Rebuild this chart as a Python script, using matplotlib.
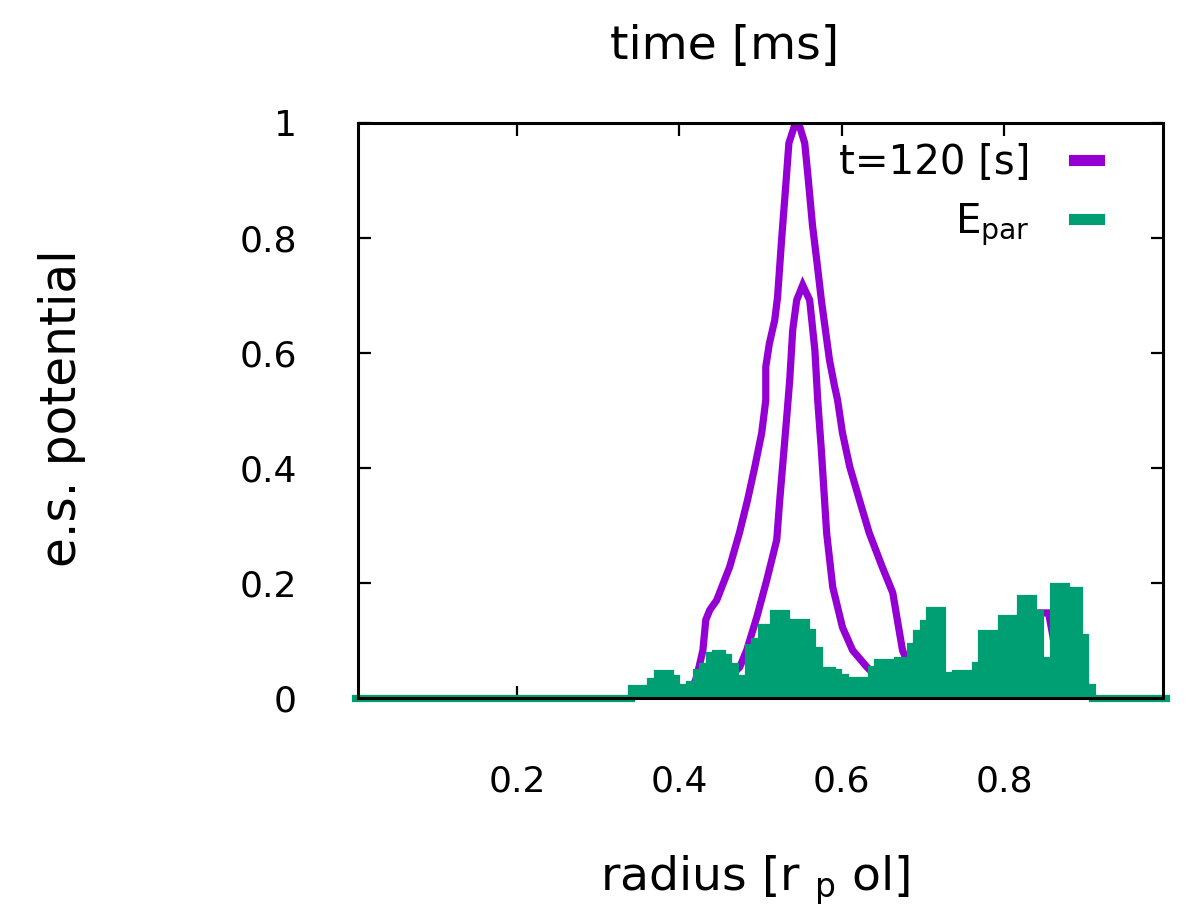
import numpy as np
import matplotlib
matplotlib.use("Agg")
import matplotlib.pyplot as plt

# potential profiles at several times (purple), all under one legend entry
r_outer = [0.413, 0.4166, 0.4215, 0.429, 0.4326, 0.4375, 0.446, 0.462, 0.474, 0.484,
           0.493, 0.5015, 0.5065, 0.5065, 0.511, 0.5175, 0.521, 0.526, 0.531, 0.535, 0.543,
           0.547, 0.5545, 0.559, 0.564, 0.570, 0.575, 0.580, 0.585, 0.591, 0.595, 0.601,
           0.610, 0.622, 0.634, 0.650, 0.663, 0.668, 0.675, 0.6835, 0.687, 0.69]
phi_outer = [0, 0.019, 0.037, 0.083, 0.136, 0.153, 0.170, 0.228, 0.287, 0.344,
             0.402, 0.461, 0.518, 0.576, 0.617, 0.657, 0.697, 0.797, 0.889, 0.965, 1.0,
             1.0, 0.965, 0.90, 0.823, 0.753, 0.692, 0.64, 0.588, 0.544, 0.518, 0.461,
             0.402, 0.344, 0.287, 0.228, 0.183, 0.141, 0.083, 0.054, 0.014, 0]

r_inner = [0.43, 0.44, 0.4585, 0.4745, 0.483, 0.4955, 0.5077, 0.52, 0.5237, 0.532,
           0.536, 0.5397, 0.5446, 0.552, 0.5606, 0.567, 0.5705, 0.575, 0.5815, 0.589,
           0.601, 0.6135, 0.631, 0.643, 0.653, 0.66]
phi_inner = [0, 0.005, 0.031, 0.054, 0.083, 0.141, 0.205, 0.275, 0.344, 0.483,
             0.553, 0.64, 0.692, 0.718, 0.692, 0.605, 0.518, 0.431, 0.287, 0.193,
             0.123, 0.083, 0.054, 0.037, 0.014, 0]

r_low = [0.44, 0.46, 0.48, 0.50, 0.51, 0.525, 0.54, 0.55, 0.56, 0.575, 0.59, 0.61,
         0.63, 0.65, 0.67, 0.69, 0.71, 0.73, 0.76, 0.79, 0.82, 0.84, 0.845, 0.855, 0.86,
         0.87, 0.88, 0.89, 0.905]
phi_low = [0, 0.012, 0.008, 0.01, 0.02, 0.03, 0.04, 0.025, 0.045, 0.02, 0.005, 0.004,
           0.004, 0.004, 0.005, 0.006, 0.004, 0.005, 0.004, 0.02, 0.05, 0.09, 0.148, 0.148,
           0.11, 0.025, 0.015, 0.01, 0.0]

# parallel field envelope (green), on the radial grid between 0.336 and 0.912
r_grid = np.round(np.arange(0.0, 1.0001, 0.008), 3)
e_par_core = [0.0, 0.017, 0.017, 0.017, 0.03, 0.043, 0.043, 0.035, 0.02, 0.01,
              0.025, 0.045, 0.055, 0.075, 0.078, 0.072, 0.055, 0.03, 0.035, 0.088,
              0.10, 0.123, 0.123, 0.148, 0.148, 0.123, 0.132, 0.132, 0.115, 0.083,
              0.049, 0.049, 0.045, 0.036, 0.031, 0.031, 0.031, 0.031, 0.05, 0.063,
              0.063, 0.063, 0.066, 0.066, 0.09, 0.113, 0.13, 0.153, 0.153, 0.03,
              0.04, 0.043, 0.043, 0.043, 0.058, 0.113, 0.113, 0.095, 0.139, 0.139,
              0.095, 0.174, 0.174, 0.148, 0.066, 0.066, 0.195, 0.195, 0.188, 0.188,
              0.106, 0.02, 0.0]
e_par = np.zeros(len(r_grid))
start = int(np.argmin(np.abs(r_grid - 0.336)))
e_par[start:start + len(e_par_core)] = e_par_core

purple = "#9400D3"
green = "#009E73"

fig = plt.figure(figsize=(12.04, 9.19), dpi=100)
ax = fig.add_axes([358 / 1204, 1 - 698 / 919, 805 / 1204, 575 / 919])

lw = 5.2
for r, phi, lab in [(r_outer, phi_outer, "t=120 [s]"), (r_inner, phi_inner, None),
                    (r_low, phi_low, None)]:
    ax.plot(r, phi, color=purple, lw=lw, label=lab, solid_joinstyle="miter", zorder=2)

# green drawn over the purple, as in the original
ax.fill_between(r_grid, e_par, step="mid", color=green, lw=0, zorder=2.1)
ax.step(r_grid, e_par, where="mid", color=green, lw=lw, clip_on=False, zorder=2.2,
        solid_joinstyle="miter", label=r"E$_{\mathregular{par}}$")

ax.set_xlim(0.004, 0.996)
ax.set_ylim(0, 1)
ax.set_xticks([0.2, 0.4, 0.6, 0.8])
ax.set_xticklabels(["0.2", "0.4", "0.6", "0.8"])
ax.set_yticks([0, 0.2, 0.4, 0.6, 0.8, 1])
ax.set_yticklabels(["0", "0.2", "0.4", "0.6", "0.8", "1"])
ax.tick_params(direction="in", length=9, width=1.6, top=True, right=True,
               labelsize=26)
ax.tick_params(axis="x", pad=48)
ax.tick_params(axis="y", pad=44)
for s in ax.spines.values():
    s.set_linewidth(2.2)
    s.set_zorder(5)

leg = ax.legend(loc="upper right", bbox_to_anchor=(0.92, 0.965), frameon=False,
                markerfirst=False, fontsize=29, handlelength=0.6,
                handletextpad=1.1, labelspacing=0.45, borderpad=0, borderaxespad=0)
for h in leg.get_lines():
    h.set_linewidth(8)

fig.text(725 / 1204, 1 - 47 / 919, "time [ms]", ha="center", va="center", fontsize=34)
fig.text(755 / 1204, 1 - 880 / 919, r"radius [r $_{\mathregular{p}}$ ol]", ha="center",
         va="center", fontsize=34)
fig.text(62 / 1204, 1 - 408 / 919, "e.s. potential", ha="center", va="center",
         rotation=90, fontsize=35)

fig.savefig("out.png", dpi=100)
